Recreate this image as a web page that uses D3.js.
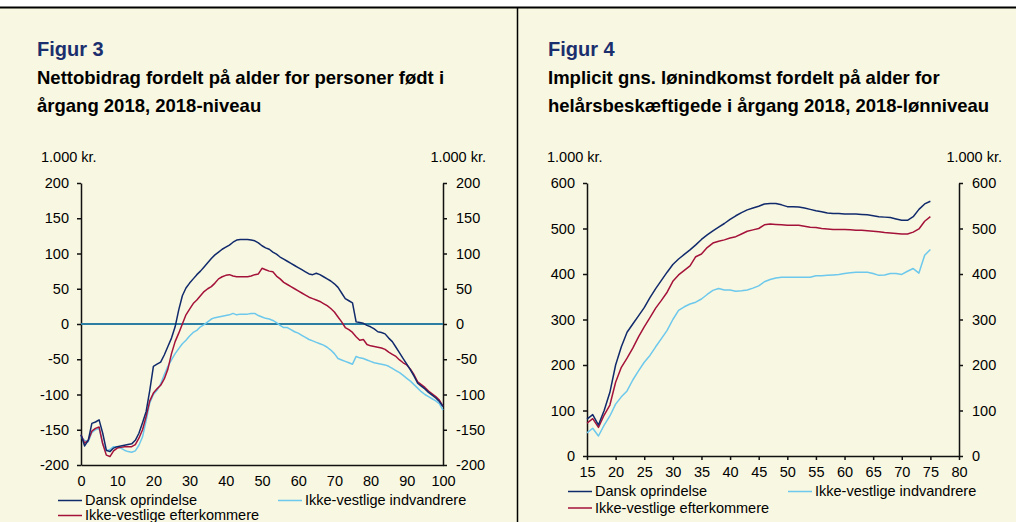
<!DOCTYPE html>
<html>
<head>
<meta charset="utf-8">
<script src="https://cdn.jsdelivr.net/npm/d3@7"></script>
<style>
  body { margin: 0; background: #fff; }
  svg { display: block; font-family: "Liberation Sans", Arial, sans-serif; }
</style>
</head>
<body>
<svg id="chart" width="1016" height="522"></svg>
<script>
// ---- data: figur 3 (alder 0-100) ----
var ages3 = d3.range(0, 101);
var dansk3 = [-157,-173,-165,-141,-139,-136,-155,-179,-181,-176,-174,-173,-172,-171,-170,-165,-155,-140,-124,-94,
  -60,-57,-54,-44,-32,-20,-4,20,40,51,58,64,70,75,81,87,93,98,102,106,
  109,112,116,119,120,120,120,119,118,115,111,108,106,102,99,95,92,89,86,83,
  80,77,74,71,70,72,70,67,64,61,57,52,44,36,33,30,3,2,1,-2,
  -4,-7,-11,-12,-14,-20,-25,-33,-41,-49,-57,-65,-74,-84,-88,-92,-97,-101,-105,-110,-117];
var efterk3 = [-157,-169,-165,-152,-148,-146,-170,-186,-188,-180,-176,-175,-174,-174,-174,-171,-162,-150,-131,-109,
  -98,-92,-87,-78,-64,-42,-25,-13,0,13,21,29,34,40,46,50,53,58,64,67,
  69,70,68,67,67,67,67,68,70,71,79,77,75,74,68,64,59,56,53,50,
  47,44,41,38,36,34,32,29,26,22,17,10,3,-5,-8,-12,-18,-23,-22,-29,
  -31,-32,-33,-34,-36,-40,-43,-46,-51,-55,-58,-64,-72,-82,-86,-90,-95,-99,-103,-108,-117];
var indv3 = [-160,-165,-167,-154,-150,-148,-170,-180,-178,-174,-174,-176,-179,-181,-182,-180,-172,-160,-137,-112,
  -100,-94,-85,-72,-60,-51,-42,-35,-28,-23,-17,-12,-9,-4,-1,3,7,9,10,11,
  12,13,15,13,14,14,14,15,15,12,10,8,7,5,2,-2,-5,-5,-8,-11,
  -13,-16,-19,-22,-24,-26,-28,-30,-33,-37,-42,-49,-51,-53,-55,-57,-46,-48,-49,-51,
  -53,-55,-56,-57,-58,-60,-63,-66,-69,-73,-77,-81,-86,-91,-96,-100,-103,-106,-109,-113,-122];
var yTicks3 = [-200,-150,-100,-50,0,50,100,150,200];
var xTicks3 = [0,10,20,30,40,50,60,70,80,90,100];

// ---- data: figur 4 (alder 15-75) ----
var ages4 = d3.range(15, 76);
var dansk4 = [81,91,68,100,140,200,240,272,290,308,326,348,368,386,404,421,433,443,453,464,
  476,486,495,503,511,520,528,535,541,545,549,554,555,555,552,548,548,547,545,542,
  539,537,534,533,533,532,532,532,531,530,528,526,525,524,521,518,518,526,542,554,560];
var efterk4 = [72,82,63,90,112,162,195,215,237,262,284,304,325,342,360,384,398,408,418,438,
  444,458,468,472,475,479,482,488,494,497,500,508,510,509,508,507,507,507,505,503,
  502,500,499,498,498,498,497,496,496,495,494,493,491,490,489,488,488,492,499,516,526];
var indv4 = [51,61,44,68,88,114,130,143,167,187,206,221,240,258,276,300,320,328,334,338,
  345,355,364,368,365,365,362,363,365,369,374,383,388,391,393,393,393,393,393,393,
  396,396,397,398,399,401,403,404,404,404,401,397,398,401,401,399,406,412,402,441,454];
var yTicks4 = [0,100,200,300,400,500,600];
var xTicks4 = [15,20,25,30,35,40,45,50,55,60,65,70,75,80];

var seriesNames = ["Dansk oprindelse", "Ikke-vestlige indvandrere", "Ikke-vestlige efterkommere"];
var colors = {dansk: "#112a6c", indv: "#6cc8ec", efterk: "#a4123a"};

var svg = d3.select("#chart");

// background and frame
svg.append("rect").attr("x", 0).attr("y", 8).attr("width", 1016).attr("height", 514).attr("fill", "#f8f7e1");
svg.append("line").attr("x1", 0).attr("x2", 1016).attr("y1", 7.5).attr("y2", 7.5)
    .attr("stroke", "#000").attr("stroke-width", 2);
svg.append("line").attr("x1", 517.5).attr("x2", 517.5).attr("y1", 7).attr("y2", 522)
    .attr("stroke", "#000").attr("stroke-width", 1.5);

function titles(x, fig, line1, line2) {
    svg.append("text").attr("x", x).attr("y", 56).text(fig)
        .style("font-size", "20px").style("font-weight", "bold").attr("fill", "#1b2f6e");
    svg.append("text").attr("x", x).attr("y", 84).text(line1)
        .style("font-size", "18.5px").style("font-weight", "bold").attr("fill", "#000");
    svg.append("text").attr("x", x).attr("y", 112).text(line2)
        .style("font-size", "18.5px").style("font-weight", "bold").attr("fill", "#000");
}

function styleAxis(g) {
    g.selectAll(".domain").attr("stroke", "#111").attr("stroke-width", 1.5);
    g.selectAll(".tick line").attr("stroke", "#111").attr("stroke-width", 1.5);
    g.selectAll("text").style("font-size", "14.5px").attr("fill", "#000").style("font-family", "Liberation Sans, Arial, sans-serif");
}

// plain hyphen minus, as in the original
var fmt = function (d) { return String(d); };

function drawPanel(opt) {
    var x = d3.scaleLinear().domain(opt.xDomain).range([opt.left, opt.right]);
    var y = d3.scaleLinear().domain(opt.yDomain).range([opt.bottom, opt.top]);

    // y axes left and right
    svg.append("g").attr("transform", "translate(" + opt.left + ",0)")
        .call(d3.axisLeft(y).tickValues(opt.yTicks).tickFormat(fmt).tickSize(4).tickPadding(8).tickSizeOuter(0))
        .call(styleAxis);
    svg.append("g").attr("transform", "translate(" + opt.right + ",0)")
        .call(d3.axisRight(y).tickValues(opt.yTicks).tickFormat(fmt).tickSize(4).tickPadding(9).tickSizeOuter(0))
        .call(styleAxis);
    // x axis
    svg.append("g").attr("transform", "translate(0," + opt.bottom + ")")
        .call(d3.axisBottom(x).tickValues(opt.xTicks).tickFormat(fmt).tickSize(opt.xTickSize).tickPadding(opt.xPad).tickSizeOuter(0))
        .call(styleAxis);

    // unit labels
    svg.append("text").attr("x", opt.left - 40).attr("y", opt.top - 21).text("1.000 kr.")
        .style("font-size", "14.5px").attr("fill", "#000");
    svg.append("text").attr("x", opt.right + 43).attr("y", opt.top - 21).text("1.000 kr.")
        .attr("text-anchor", "end").style("font-size", "14.5px").attr("fill", "#000");

    if (opt.zeroLine) {
        svg.append("line").attr("x1", x(opt.xDomain[0])).attr("x2", x(opt.xDomain[1]))
            .attr("y1", y(0)).attr("y2", y(0))
            .attr("stroke", "#2c7fa3").attr("stroke-width", 2);
    }

    var line = d3.line().x(function (d) { return x(d[0]); }).y(function (d) { return y(d[1]); });
    var order = [["indv", opt.indv], ["efterk", opt.efterk], ["dansk", opt.dansk]];
    order.forEach(function (s) {
        svg.append("path")
            .datum(opt.ages.map(function (a, i) { return [a, s[1][i]]; }))
            .attr("d", line)
            .attr("fill", "none")
            .attr("stroke", colors[s[0]])
            .attr("stroke-width", 1.5)
            .attr("stroke-linejoin", "round");
    });

    // legend
    var leg = [
        {key: "dansk", name: seriesNames[0], x: opt.legX1, y: opt.legY1},
        {key: "indv", name: seriesNames[1], x: opt.legX2, y: opt.legY1},
        {key: "efterk", name: seriesNames[2], x: opt.legX1, y: opt.legY2}
    ];
    leg.forEach(function (l) {
        svg.append("line").attr("x1", l.x).attr("x2", l.x + 24).attr("y1", l.y).attr("y2", l.y)
            .attr("stroke", colors[l.key]).attr("stroke-width", 1.5);
        svg.append("text").attr("x", l.x + 27).attr("y", l.y + 4.5).text(l.name)
            .style("font-size", "14.5px").attr("fill", "#000");
    });
}

titles(37, "Figur 3", "Nettobidrag fordelt på alder for personer født i", "årgang 2018, 2018-niveau");
titles(548, "Figur 4", "Implicit gns. lønindkomst fordelt på alder for", "helårsbeskæftigede i årgang 2018, 2018-lønniveau");

drawPanel({
    left: 81, right: 443, top: 183, bottom: 465,
    xDomain: [0, 100], yDomain: [-200, 200],
    xTicks: xTicks3, yTicks: yTicks3, xTickSize: 0, xPad: 11,
    zeroLine: true,
    ages: ages3, dansk: dansk3, efterk: efterk3, indv: indv3,
    legX1: 58, legX2: 278, legY1: 500.5, legY2: 515.5
});

drawPanel({
    left: 587, right: 959, top: 183, bottom: 456,
    xDomain: [15, 80], yDomain: [0, 600],
    xTicks: xTicks4, yTicks: yTicks4, xTickSize: 4, xPad: 7,
    zeroLine: false,
    ages: ages4, dansk: dansk4, efterk: efterk4, indv: indv4,
    legX1: 568, legX2: 788, legY1: 491.5, legY2: 508
});
</script>
</body>
</html>
